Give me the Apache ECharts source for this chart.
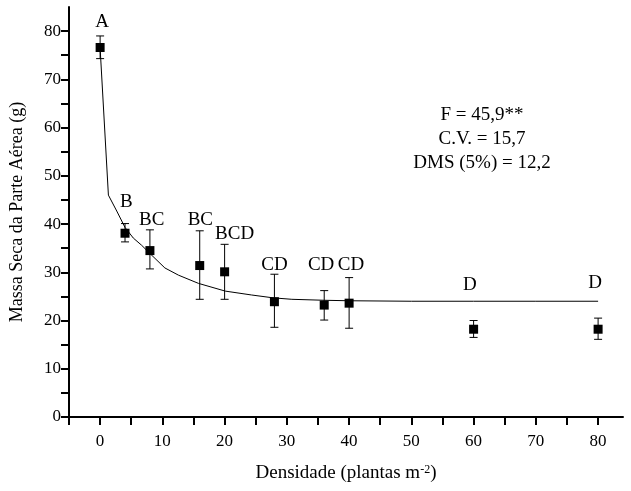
<!DOCTYPE html>
<html>
<head>
<meta charset="utf-8">
<script src="https://cdn.jsdelivr.net/npm/echarts@6/dist/echarts.min.js"></script>
<style>
html,body{margin:0;padding:0;background:#fff;}
#chart{width:631px;height:491px;}
</style>
</head>
<body>
<div id="chart"></div>
<script>
// Observed data (density, mean dry mass, error bar low / high)
const density = [0, 4, 8, 16, 20, 28, 36, 40, 60, 80];
const meanMass = [76.6, 38.1, 34.5, 31.4, 30.1, 23.9, 23.2, 23.6, 18.2, 18.2];
const errLow  = [74.3, 36.3, 30.7, 24.4, 24.4, 18.6, 20.1, 18.4, 16.5, 16.1];
const errHigh = [79.0, 40.1, 38.8, 38.6, 35.8, 29.6, 26.2, 28.9, 20.0, 20.5];

// Tukey letters and their anchor values (data units)
const letters = ['A', 'B', 'BC', 'BC', 'BCD', 'CD', 'CD', 'CD', 'D', 'D'];
const letterX = [0.3, 4.2, 8.3, 16.1, 21.6, 28.0, 35.5, 40.3, 59.4, 79.5];
const letterY = [81.8, 44.5, 40.8, 40.8, 37.9, 31.6, 31.6, 31.6, 27.4, 27.7];

// Fitted curve
const curveX = [0, 1.33, 2.67, 4, 5.33, 6.67, 8, 10.4, 12.6, 15.8, 20.1, 24.3, 27.8, 30.8, 36, 40, 50, 60, 70, 80];
const curveY = [76.5, 46.0, 42.7, 39.3, 37.1, 35.6, 33.9, 30.9, 29.4, 27.7, 26.1, 25.3, 24.7, 24.4, 24.2, 24.1, 24.0, 24.0, 24.0, 24.0];

// Axis ticks
const xTickValues = [-5, 0, 5, 10, 15, 20, 25, 30, 35, 40, 45, 50, 55, 60, 65, 70, 75, 80];
const xLabelValues = [0, 10, 20, 30, 40, 50, 60, 70, 80];
const yTickValues = [0, 5, 10, 15, 20, 25, 30, 35, 40, 45, 50, 55, 60, 65, 70, 75, 80];
const yLabelValues = [0, 10, 20, 30, 40, 50, 60, 70, 80];

const statsLines = ['F = 45,9**', 'C.V. = 15,7', 'DMS (5%) = 12,2'];

const FONT = '"Liberation Serif", "Times New Roman", serif';

const chart = echarts.init(document.getElementById('chart'));

const option = {
  backgroundColor: '#fff',
  animation: false,
  grid: { left: 69, right: 8, top: 7, bottom: 74, containLabel: false },
  xAxis: {
    type: 'value', min: -5, max: 84,
    name: 'Densidade (plantas m{sup|-2})',
    nameLocation: 'middle', nameGap: 47,
    nameTextStyle: {
      fontFamily: FONT, fontSize: 19, color: '#000',
      rich: { sup: { fontFamily: FONT, fontSize: 12, color: '#000', verticalAlign: 'top', lineHeight: 12, padding: [0, 0, 6, 0] } }
    },
    axisLine: { show: true, onZero: false, lineStyle: { color: '#000', width: 2 } },
    axisTick: { show: true, inside: false, length: 8, customValues: xTickValues, lineStyle: { color: '#000', width: 2 } },
    axisLabel: { customValues: xLabelValues, margin: 16, fontFamily: FONT, fontSize: 17, color: '#000' },
    splitLine: { show: false }
  },
  yAxis: {
    type: 'value', min: 0, max: 85,
    name: 'Massa Seca da Parte Aérea (g)',
    nameLocation: 'middle', nameGap: 43,
    nameTextStyle: { fontFamily: FONT, fontSize: 18, color: '#000' },
    axisLine: { show: true, onZero: false, lineStyle: { color: '#000', width: 2 } },
    axisTick: { show: true, inside: false, length: 8, customValues: yTickValues, lineStyle: { color: '#000', width: 2 } },
    axisLabel: { customValues: yLabelValues, margin: 8, fontFamily: FONT, fontSize: 17, color: '#000' },
    splitLine: { show: false }
  },
  series: [
    {
      type: 'line',
      data: curveX.map((x, i) => [x, curveY[i]]),
      showSymbol: false, symbol: 'none',
      lineStyle: { color: '#000', width: 1 },
      z: 2
    },
    {
      type: 'custom',
      data: density.map((x, i) => [x, errLow[i], errHigh[i]]),
      renderItem: function (params, api) {
        const x = api.value(0);
        const lo = api.coord([x, api.value(1)]);
        const hi = api.coord([x, api.value(2)]);
        const half = 4;
        const st = { stroke: '#000', lineWidth: 1 };
        return {
          type: 'group',
          children: [
            { type: 'line', shape: { x1: lo[0], y1: lo[1], x2: hi[0], y2: hi[1] }, style: st },
            { type: 'line', shape: { x1: hi[0] - half, y1: hi[1], x2: hi[0] + half, y2: hi[1] }, style: st },
            { type: 'line', shape: { x1: lo[0] - half, y1: lo[1], x2: lo[0] + half, y2: lo[1] }, style: st }
          ]
        };
      },
      z: 3
    },
    {
      type: 'scatter',
      data: density.map((x, i) => [x, meanMass[i]]),
      symbol: 'rect', symbolSize: 9,
      itemStyle: { color: '#000', opacity: 1 },
      z: 4
    },
    {
      type: 'scatter',
      data: letterX.map((x, i) => ({ value: [x, letterY[i]], name: letters[i] })),
      symbolSize: 0,
      itemStyle: { color: '#000', opacity: 1 },
      label: {
        show: true, position: 'inside',
        formatter: p => p.name,
        fontFamily: FONT, fontSize: 19, color: '#000',
        textBorderWidth: 0, opacity: 1
      },
      z: 5
    }
  ],
  graphic: statsLines.map((t, i) => ({
    type: 'text',
    x: 482, y: 115 + i * 24,
    style: {
      text: t,
      textAlign: 'center', textVerticalAlign: 'middle',
      font: '19px ' + FONT, fill: '#000'
    }
  }))
};
chart.setOption(option);
</script>
</body>
</html>
